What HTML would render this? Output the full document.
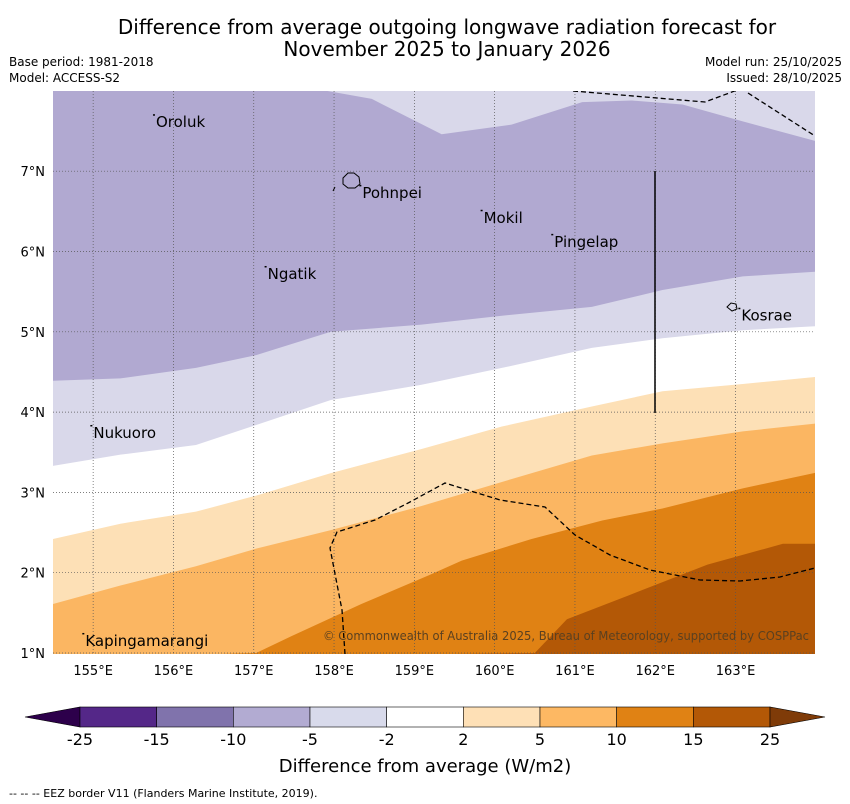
<!DOCTYPE html>
<html><head><meta charset="utf-8">
<style>
body{margin:0;background:#fff;font-family:"Liberation Sans","DejaVu Sans",sans-serif;}
#wrap{position:relative;width:850px;height:804px;overflow:hidden;}
</style></head>
<body>
<div id="wrap">
<svg id="svg" width="850" height="804" xmlns="http://www.w3.org/2000/svg" font-family="DejaVu Sans, Liberation Sans, sans-serif">
<text x="447" y="34" text-anchor="middle" font-size="20">Difference from average outgoing longwave radiation forecast for</text>
<text x="447" y="56" text-anchor="middle" font-size="20">November 2025 to January 2026</text>
<text x="9" y="66" font-size="12">Base period: 1981-2018</text>
<text x="9" y="82" font-size="12">Model: ACCESS-S2</text>
<text x="842" y="66" font-size="12" text-anchor="end">Model run: 25/10/2025</text>
<text x="842" y="82" font-size="12" text-anchor="end">Issued: 28/10/2025</text>
<g id="map"></g>
<g id="cbar"></g>
<text x="425" y="772" text-anchor="middle" font-size="18">Difference from average (W/m2)</text>
<text x="9" y="797" font-size="11">--  --  -- EEZ border V11 (Flanders Marine Institute, 2019).</text>
</svg>
</div>
<script>
const lonTicks=[155,156,157,158,159,160,161,162,163];
const latTicks=[1,2,3,4,5,6,7];
const levelColors=['#b1a9d1','#d9d8ea','#ffffff','#fde0b6','#fbb662','#e08214','#b35806'];
// contour boundary lines (lon, lat), top to bottom
const bLon=[154.5,155.34,156.28,157.03,157.96,159.09,160.09,161.21,162.09,163.09,164.02];
const bA=[4.39,4.42,4.55,4.71,5.0,5.09,5.2,5.31,5.52,5.69,5.75];
const bB=[3.33,3.47,3.59,3.84,4.15,4.34,4.55,4.80,4.92,5.02,5.07];
const bC=[2.42,2.61,2.76,2.96,3.24,3.54,3.82,4.07,4.26,4.35,4.44];
const bD=[1.61,1.84,2.08,2.30,2.53,2.83,3.13,3.46,3.61,3.76,3.86];
const eLon=[157.03,157.47,158.34,159.21,159.59,160.46,161.34,162.09,163.09,164.02];
const bE=[1.0,1.21,1.61,1.98,2.15,2.42,2.65,2.80,3.05,3.25];
const fLon=[160.5,160.9,161.65,162.65,163.59,164.02];
const bF=[1.0,1.42,1.71,2.10,2.36,2.36];
const topLon=[157.8,158.47,159.34,160.21,161.09,161.71,162.34,163.09,164.02];
const topLat=[8.02,7.9,7.46,7.58,7.86,7.88,7.83,7.62,7.37];
const islands=[["Oroluk",155.77,7.61],["Pohnpei",158.34,6.73],["Ngatik",157.16,5.72],["Mokil",159.85,6.42],["Pingelap",160.73,6.12],["Kosrae",163.06,5.2],["Nukuoro",154.99,3.74],["Kapingamarangi",154.89,1.15]];
const cbLabels=["-25","-15","-10","-5","-2","2","5","10","15","25"];
const cbColors=['#542788','#8073ac','#b2abd2','#d8daeb','#ffffff','#fee0b6','#fdb863','#e08214','#b35806'];

const X0=53,X1=815,Y0=91,Y1=654;
const lon2x=l=>53+(l-154.5)*80.3;
const lat2y=a=>653-(a-1)*80.3;
const NS='http://www.w3.org/2000/svg';
const map=document.getElementById('map');
function mk(tag,at,parent){const e=document.createElementNS(NS,tag);for(const k in at)e.setAttribute(k,at[k]);(parent||map).appendChild(e);return e;}
const clip=mk('clipPath',{id:'mc'});mk('rect',{x:X0,y:Y0,width:X1-X0,height:Y1-Y0},clip);
const g=mk('g',{'clip-path':'url(#mc)'});


function pts(lons,lats){return lons.map((l,i)=>lon2x(l)+','+lat2y(lats[i])).join(' ');}
function below(lons,lats,col,name){
 const p=pts(lons,lats)+' '+lon2x(lons[lons.length-1])+','+(Y1+5)+' '+lon2x(lons[0])+','+(Y1+5)+' '+(X0-5)+','+(Y1+5);
 let start=lon2x(lons[0])>X0+1?(X0-5)+','+(Y1+5)+' ':'';
 const e=mk('polygon',{points:start+p,fill:col},g);
 
 
}
const bg=mk('rect',{x:X0,y:Y0,width:X1-X0,height:Y1-Y0,fill:levelColors[1]},g);


const dp=mk('polygon',{points:(X0-5)+','+(Y0-5)+' '+pts(topLon,topLat)+' '+(X1+5)+','+lat2y(topLat[topLat.length-1])+' '+pts(bLon.slice().reverse(),bA.slice().reverse())},g);
dp.setAttribute('fill',levelColors[0]);


below(bLon,bB,levelColors[2],'band-minus2-2');
below(bLon,bC,levelColors[3],'band-2-5');
below(bLon,bD,levelColors[4],'band-5-10');
below(eLon,bE,levelColors[5],'band-10-15');
below(fLon,bF,levelColors[6],'band-15-25');
lonTicks.forEach(l=>{const e=mk('line',{x1:lon2x(l),x2:lon2x(l),y1:Y0,y2:Y1,stroke:'#555','stroke-width':0.7,'stroke-dasharray':'1,2'},g);

const t=mk('text',{x:lon2x(l),y:675,'text-anchor':'middle','font-size':13});t.textContent=l+'°E';
});
latTicks.forEach(a=>{const e=mk('line',{x1:X0,x2:X1,y1:lat2y(a),y2:lat2y(a),stroke:'#555','stroke-width':0.7,'stroke-dasharray':'1,2'},g);

const t=mk('text',{x:45,y:lat2y(a)+5,'text-anchor':'end','font-size':13});t.textContent=a+'°N';
});
const eez1=mk('polyline',{points:'573,91 705,102 740,89',fill:'none',stroke:'#000','stroke-width':1.3,'stroke-dasharray':'5,3'},g);

const eez2=mk('polyline',{points:'748,93 815,136',fill:'none',stroke:'#000','stroke-width':1.3,'stroke-dasharray':'5,3'},g);

const eez3=mk('polyline',{points:'345,654 342,610 330,548 337,532 375,520 410,502 445,483 500,500 545,507 575,535 610,555 650,570 700,580 740,581 780,577 815,568',fill:'none',stroke:'#000','stroke-width':1.3,'stroke-dasharray':'5,3'},g);

const vl=mk('line',{x1:655,x2:655,y1:171,y2:413,stroke:'#000','stroke-width':1.5},g);

const pn=mk('path',{d:'M343,178 l5,-5 6,0 5,4 1,7 -5,4 -7,0 -5,-4z',fill:'none',stroke:'#000','stroke-width':1},g);

const pd=mk('line',{x1:333,y1:191,x2:335,y2:187,stroke:'#000','stroke-width':1},g);

const ks=mk('path',{d:'M727,307 l4,-4 5,1 1,5 -5,2z',fill:'none',stroke:'#000','stroke-width':1},g);

islands.forEach(s=>{const x=lon2x(s[1]),y=lat2y(s[2]);
const d=mk('rect',{x:x-2,y:y-8,width:2,height:1.5,fill:'#000'},g);

const t=mk('text',{x:x+1,y:y+5,'font-size':15},g);t.textContent=s[0];
});
const cp=mk('text',{x:809,y:640,'text-anchor':'end','font-size':12,fill:'#5a4020',textLength:486,lengthAdjust:'spacingAndGlyphs'},g);
cp.textContent='© Commonwealth of Australia 2025, Bureau of Meteorology, supported by COSPPac';

const cb=document.getElementById('cbar');
const cx0=80,cy=707,ch=20;
const l1=mk('polygon',{points:`${cx0},${cy} ${cx0},${cy+ch} 25,${cy+ch/2}`,fill:'#2d004b',stroke:'#000','stroke-width':0.6},cb);

cbColors.forEach((c,i)=>{const r=mk('rect',{x:cx0+i*(690/9),y:cy,width:690/9,height:ch,fill:c,stroke:'#000','stroke-width':0.6},cb);
});
const r1=mk('polygon',{points:`770,${cy} 770,${cy+ch} 825,${cy+ch/2}`,fill:'#7f3b08',stroke:'#000','stroke-width':0.6},cb);

cbLabels.forEach((s,i)=>{const t=mk('text',{x:cx0+i*(690/9),y:745,'text-anchor':'middle','font-size':16},cb);t.textContent=s;
});
</script>
</body></html>
